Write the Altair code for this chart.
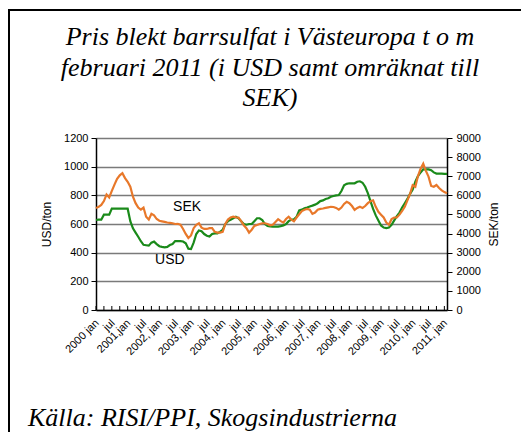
import altair as alt
import pandas as pd

# ---- data ----
months = list(range(134))  # 0 = 2000 jan ... 133 = 2011 feb
usd = [628,630,630,665,665,665,707,707,707,707,
       707,707,707,620,570,540,511,480,455,452,
       449,470,477,460,445,440,437,440,453,460,
       481,481,481,478,465,428,425,470,530,555,
       550,530,518,512,530,535,535,545,560,600,
       620,630,640,650,640,620,600,595,600,600,
       620,640,640,628,600,586,583,581,581,582,
       585,590,600,620,630,633,650,695,700,709,
       715,722,728,735,745,760,765,775,780,790,
       795,800,802,830,870,880,884,884,884,895,
       898,888,860,815,760,705,660,625,590,575,
       572,575,595,625,655,680,715,745,775,810,
       840,895,935,960,981,981,981,975,960,952,
       952,952,950,950]
sek = [5330,5400,5500,5700,6040,5890,6230,6560,6860,7050,
       7160,6900,6710,6450,5930,5590,5360,5250,5360,4880,
       4730,5030,4950,4760,4670,4640,4610,4580,4560,4540,
       4500,4510,4460,4240,3980,3770,3900,4280,4460,4540,
       4310,4240,4240,4280,4280,4090,4050,4050,4090,4500,
       4730,4840,4880,4850,4840,4650,4430,4280,4050,4200,
       4400,4450,4500,4540,4540,4500,4430,4460,4610,4750,
       4650,4570,4760,4880,4730,4640,4840,5010,5180,5250,
       5290,5250,5030,5100,5250,5290,5310,5340,5370,5400,
       5390,5340,5250,5360,5550,5660,5590,5440,5240,5340,
       5400,5340,5440,5590,5690,5740,5400,5140,4990,4840,
       4580,4460,4760,4840,4840,4990,5180,5400,5740,6080,
       6530,6450,7010,7390,7650,7280,6980,6490,6450,6540,
       6380,6260,6170,6110]
xlabels = ["2000 jan", "jul", "2001,jan", "jul", "2002, jan", "jul", "2003, jan", "jul",
           "2004, jan", "jul", "2005, jan", "jul", "2006, jan", "jul", "2007, jan", "jul",
           "2008, jan", "jul", "2009, jan", "jul", "2010, jan", "jul", "2011, jan"]
xlabel_months = list(range(0, 133, 6))
minor_tick_months = list(range(0, 133, 3))
usd_ticks = [0, 200, 400, 600, 800, 1000, 1200]
sek_ticks = [0, 1000, 2000, 3000, 4000, 5000, 6000, 7000, 8000, 9000]
title_lines = ["Pris blekt barrsulfat i Västeuropa t o m",
               "februari 2011 (i USD samt omräknat till",
               "SEK)"]
source = "Källa: RISI/PPI, Skogsindustrierna"
series_labels = ["SEK", "USD"]
label_month = [34.5, 28]
label_value = [719, 349]

df = pd.DataFrame({"m": months, "usd": usd, "sek": sek})
tick_df = pd.DataFrame({"m": minor_tick_months})
xlab_df = pd.DataFrame({"m": xlabel_months, "t": xlabels})
lab_df = pd.DataFrame({"m": label_month, "v": label_value, "t": series_labels})

W, H = 351, 172
SANS = "Liberation Sans"
SERIF = "'Times New Roman', 'Liberation Serif', serif"

xscale = alt.Scale(domain=[0, 133], nice=False, zero=False)
uscale = alt.Scale(domain=[0, 1200], nice=False)
sscale = alt.Scale(domain=[0, 9000], nice=False)

x_axis = alt.Axis(values=xlabel_months, labels=False, ticks=False, grid=False,
                  domainColor="black", domainWidth=1.5, title=None)

usd_line = alt.Chart(df).mark_line(color="#1a8a1a", strokeWidth=2.2).encode(
    x=alt.X("m:Q", scale=xscale, axis=x_axis),
    y=alt.Y("usd:Q", scale=uscale,
            axis=alt.Axis(values=usd_ticks, format="d", title="USD/ton", grid=True,
                          gridColor="#7a7a7a", gridWidth=1.5, domainColor="black",
                          domainWidth=1.5, tickColor="black", tickSize=5, labelFont=SANS,
                          labelFontSize=11, labelColor="black", labelPadding=3,
                          titleFont=SANS, titleFontSize=12, titleFontWeight="normal",
                          titleColor="black", titlePadding=10)),
)

tick_rules = alt.Chart(tick_df).mark_rule(color="black", strokeWidth=1).encode(
    x=alt.X("m:Q", scale=xscale),
    y=alt.value(H), y2=alt.value(H - 4),
)

xlab_text = alt.Chart(xlab_df).mark_text(font=SANS, fontSize=11, color="black", angle=315,
                                         align="right", baseline="middle", dx=2).encode(
    x=alt.X("m:Q", scale=xscale),
    y=alt.value(H + 13),
    text="t:N",
)

labels = alt.Chart(lab_df).mark_text(font=SANS, fontSize=14, color="black").encode(
    x=alt.X("m:Q", scale=xscale),
    y=alt.Y("v:Q", scale=uscale, axis=None),
    text="t:N",
)

sek_line = alt.Chart(df).mark_line(color="#e8782a", strokeWidth=2.2).encode(
    x=alt.X("m:Q", scale=xscale),
    y=alt.Y("sek:Q", scale=sscale,
            axis=alt.Axis(orient="right", values=sek_ticks, format="d", title="SEK/ton",
                          grid=False, domainColor="black", domainWidth=1.5,
                          tickColor="black", tickSize=5, labelFont=SANS, labelFontSize=11,
                          labelColor="black", labelPadding=4, titleFont=SANS,
                          titleFontSize=12, titleFontWeight="normal", titleColor="black",
                          titlePadding=20, titleAngle=270)),
)

one = pd.DataFrame({"t": [source]})


def free_text(txt, x, y, align, size=26):
    d = pd.DataFrame({"t": [txt]})
    return alt.Chart(d).mark_text(font=SERIF, fontSize=size, fontStyle="italic",
                                  align=align, baseline="alphabetic",
                                  color="black").encode(
        x=alt.value(x), y=alt.value(y), text="t:N")


title_marks = [free_text(t, 174, yy, "center") for t, yy in zip(title_lines, [-93, -62, -32])]
footer = free_text(source, -68, 288, "left")

border_left = alt.Chart(one).mark_rule(color="black", strokeWidth=2).encode(
    x=alt.value(-87), y=alt.value(-128), y2=alt.value(300))
border_top = alt.Chart(one).mark_rule(color="black", strokeWidth=2).encode(
    x=alt.value(-88), x2=alt.value(430), y=alt.value(-128))

chart = alt.layer(usd_line, tick_rules, xlab_text, labels, sek_line, footer, *title_marks,
                  border_left, border_top).resolve_scale(
    y="independent"
).properties(
    width=W, height=H,
    autosize=alt.AutoSizeParams(type="none"),
    padding={"left": 88, "top": 130, "right": 74, "bottom": 122},
).configure_view(stroke=None).configure(background="white")

chart.save("out.html", embed_options={"renderer": "svg", "actions": False})
